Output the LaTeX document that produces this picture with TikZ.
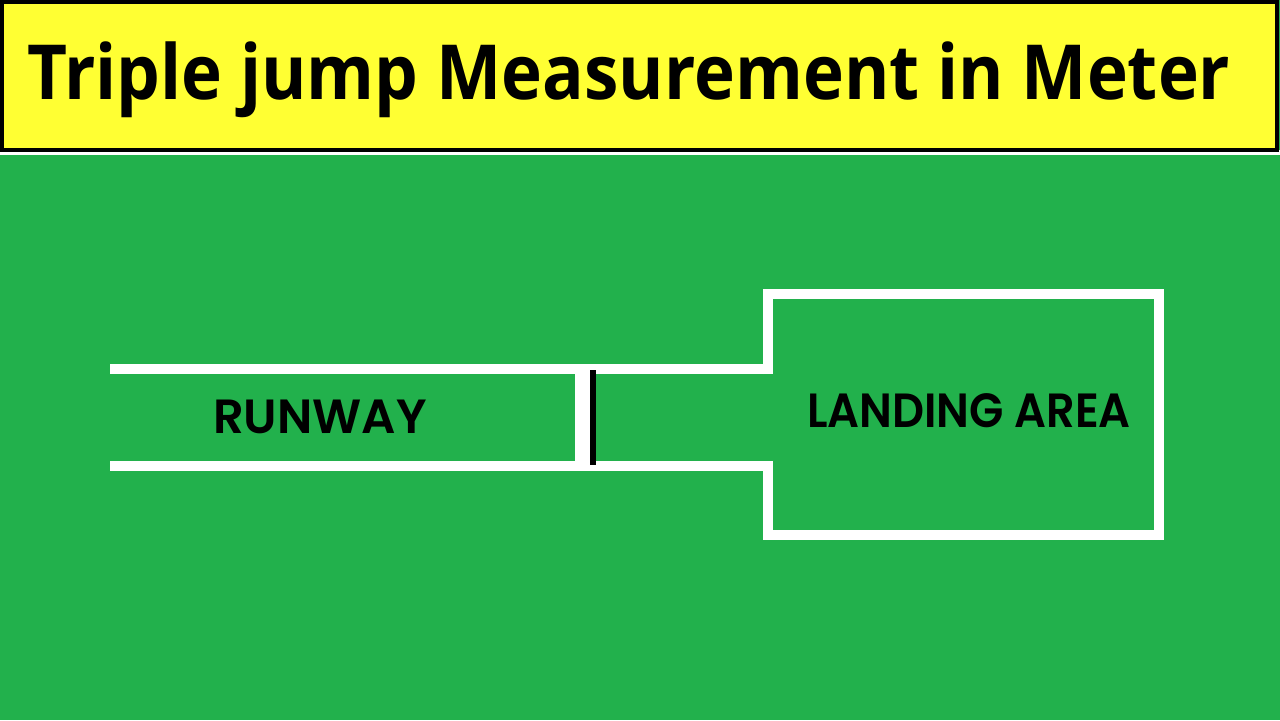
\documentclass[tikz,border=0pt]{standalone}
\usepackage{fontspec}
\setmainfont{Open Sans}
\newfontfamily\signfont{Poppins}[BoldFont={* SemiBold}]
\usepackage{tikz}
\usetikzlibrary{positioning}
\definecolor{fieldGreen}{HTML}{22B14C}
\definecolor{bannerYellow}{HTML}{FFFF33}

\begin{document}
\begin{tikzpicture}[x=0.5pt,y=-0.5pt,
  chalk/.style={draw=white, line width=5pt},
  sign/.style={font=\signfont\bfseries\fontsize{24}{24}\selectfont, text=black, inner sep=0pt},
  title/.style={font=\bfseries\fontsize{38}{38}\selectfont, text=black, inner sep=0pt}]
\useasboundingbox (0,0) rectangle (1280,720);
\fill[fieldGreen] (0,0) rectangle (1280,720);
\fill[white] (0,150) rectangle (1280,155);
\draw[fill=bannerYellow, draw=black, line width=2pt] (2,2) rectangle (1277,150);
\node[title, anchor=base] (head) at (629,99) {\scalebox{0.91}[1]{Triple jump Measurement in Meter}};
% runway
\draw[chalk] (110,369) -- (768,369);
\draw[chalk] (110,466) -- (768,466);
\draw[draw=white, line width=7.5pt] (582.5,374) -- (582.5,461);
\draw[draw=black, line width=3pt] (593,370) -- (593,465);
% landing pit
\draw[chalk, line join=miter] (768,374) -- (768,293.5) -- (1158.5,293.5) -- (1158.5,534.5) -- (768,534.5) -- (768,461);
\node[sign] (runway) at (320,417) {RUNWAY};
\node[sign] (pit) at (969,411) {\scalebox{0.93}[1]{LANDING AREA}};
\end{tikzpicture}
\end{document}
